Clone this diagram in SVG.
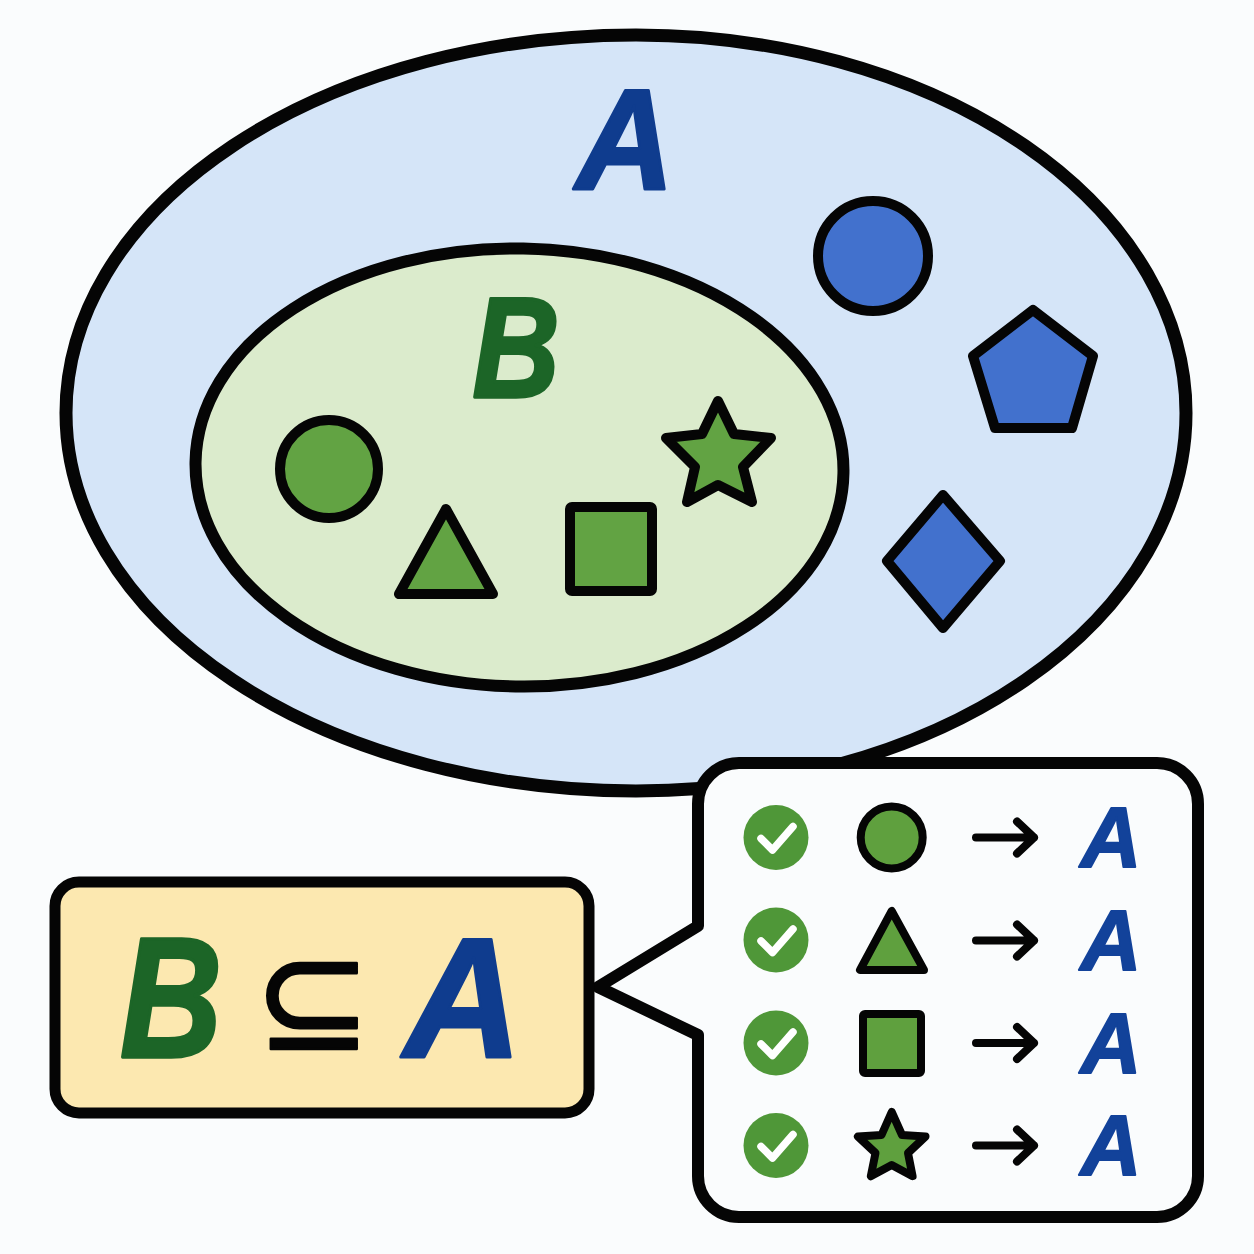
<svg xmlns="http://www.w3.org/2000/svg" xmlns:xlink="http://www.w3.org/1999/xlink" width="1254" height="1254" viewBox="0 0 1254 1254">
<style>
.ln{stroke:#050505;stroke-linejoin:round;stroke-linecap:round}
.bl{fill:#4271cd;stroke-width:10}
.gr{fill:#62a343;stroke-width:10}
.gs{fill:#5fa03e;stroke-width:8}
.t{font-family:"Liberation Sans",Arial,sans-serif;font-weight:700;font-style:italic;stroke-linejoin:round}
.ta{fill:#0f3c8e;stroke:#0f3c8e;stroke-width:3}
.tb{fill:#1c6527;stroke:#1c6527;stroke-width:3.5}
.sa{fill:#12429a;stroke:#12429a;stroke-width:1.8;font-size:85px}
.ck{fill:#4f9738}
.cm{fill:none;stroke:#fff;stroke-width:7.5;stroke-linecap:round;stroke-linejoin:round}
.ar{fill:none;stroke:#050505;stroke-width:8;stroke-linecap:round;stroke-linejoin:round}
</style>
<defs>
<g id="check"><circle class="ck" cx="776" cy="0" r="32.5"/><polyline class="cm" points="761,1 772.5,12.5 793,-11"/></g>
<g id="arrow"><path class="ar" d="M976,0H1034M1017,-16L1034,0L1017,16"/></g>
</defs>
<rect width="1254" height="1254" fill="#fafcfd"/>
<g id="set-A">
<path class="ln" d="M66,413A570,378 0 0 1 636,35A550,378 0 0 1 1186,413A550,378 0 0 1 636,791A570,378 0 0 1 66,413Z" fill="#d5e5f8" stroke-width="13"/>
<text class="t ta" x="625" y="189" font-size="143" text-anchor="middle" textLength="98" lengthAdjust="spacingAndGlyphs">A</text>
</g>
<g id="a-circle"><circle class="ln bl" cx="873" cy="256" r="55"/></g>
<g id="a-pentagon"><polygon class="ln bl" points="1033,310 1093,356 1072,428 995,428 973,356"/></g>
<g id="a-diamond"><polygon class="ln bl" points="943,495 1000,561 943,628 887,561"/></g>
<g id="set-B">
<ellipse class="ln" cx="519.5" cy="467.5" rx="324" ry="219" fill="#dbebcc" stroke-width="12" transform="rotate(1 519.5 467.5)"/>
<text class="t tb" x="516" y="397" font-size="142" text-anchor="middle" textLength="87" lengthAdjust="spacingAndGlyphs">B</text>
</g>
<g id="b-circle"><circle class="ln gr" cx="329" cy="469" r="49"/></g>
<g id="b-triangle"><polygon class="ln gr" points="446,509 399,594 493,594"/></g>
<g id="b-square"><rect class="ln gr" x="570" y="507" width="82" height="84" rx="2"/></g>
<g id="b-star"><polygon class="ln gr" points="718,401 734,434 771,438 743,467 752,502 718,485 687,502 695,467 666,438 702,434"/></g>
<g id="callout">
<path class="ln" d="M739,763H1157A41,41 0 0 1 1198,804V1176A41,41 0 0 1 1157,1217H739A41,41 0 0 1 698,1176V1035L598,987L698,926V804A41,41 0 0 1 739,763Z" fill="#fafcfd" stroke-width="12"/>
</g>
<g id="formula">
<rect class="ln" x="55" y="882" width="534" height="231" rx="24" fill="#fce8b0" stroke-width="11"/>
<text class="t tb" x="171" y="1057" font-size="170" text-anchor="middle" textLength="102" lengthAdjust="spacingAndGlyphs">B</text>
<text x="313" y="1049" font-family="DejaVu Sans,sans-serif" font-size="140" text-anchor="middle" fill="#050505" stroke="#050505" stroke-width="2.5" stroke-linejoin="round">⊆</text>
<text class="t ta" x="463" y="1057" font-size="170" text-anchor="middle" textLength="118" lengthAdjust="spacingAndGlyphs">A</text>
</g>
<g id="row-circle">
<use xlink:href="#check" href="#check" y="837.5"/>
<circle class="ln gs" cx="891.7" cy="837.5" r="31"/>
<text class="t sa" x="1111" y="867" text-anchor="middle" textLength="61" lengthAdjust="spacingAndGlyphs">A</text>
</g>
<g id="row-triangle">
<use xlink:href="#check" href="#check" y="940"/>
<polygon class="ln gs" points="891.7,911 860,970 924,970"/>
<text class="t sa" x="1111" y="970" text-anchor="middle" textLength="61" lengthAdjust="spacingAndGlyphs">A</text>
</g>
<g id="row-square">
<use xlink:href="#check" href="#check" y="1043"/>
<rect class="ln gs" x="863" y="1014" width="58" height="59" rx="2"/>
<text class="t sa" x="1111" y="1073" text-anchor="middle" textLength="61" lengthAdjust="spacingAndGlyphs">A</text>
</g>
<g id="row-star">
<use xlink:href="#check" href="#check" y="1145.5"/>
<polygon class="ln gs" points="891.7,1112 902,1135 925.5,1136.5 908,1153 912.6,1176.2 891.7,1165 870.8,1176.2 875.5,1153 857.9,1136.5 881.5,1135"/>
<text class="t sa" x="1111" y="1175" text-anchor="middle" textLength="61" lengthAdjust="spacingAndGlyphs">A</text>
</g>
<g id="connectors">
<use xlink:href="#arrow" href="#arrow" y="837.5"/>
<use xlink:href="#arrow" href="#arrow" y="940.5"/>
<use xlink:href="#arrow" href="#arrow" y="1043"/>
<use xlink:href="#arrow" href="#arrow" y="1145.5"/>
</g>
</svg>
